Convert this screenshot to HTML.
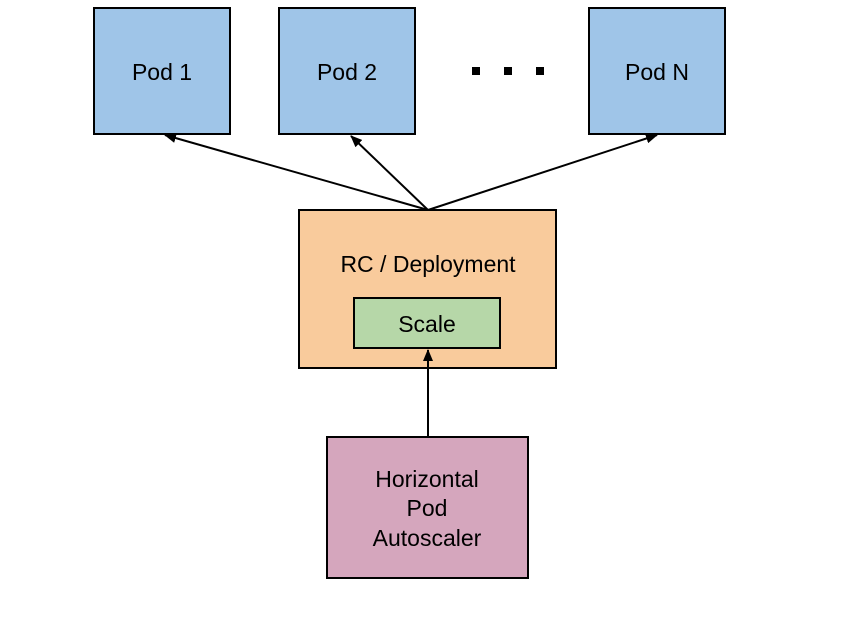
<!DOCTYPE html>
<html><head><style>html,body{margin:0;padding:0;background:#fff}</style></head><body>
<svg width="858" height="624" xmlns="http://www.w3.org/2000/svg" font-family="Liberation Sans, Arial, sans-serif" font-size="23">
<defs><marker id="a" markerWidth="12" markerHeight="10" refX="11" refY="5" orient="auto" markerUnits="userSpaceOnUse"><path d="M0,0 L12,5 L0,10 z" fill="#000"/></marker></defs>
<rect width="858" height="624" fill="#fff"/>
<g stroke="#000" stroke-width="2">
<rect x="94" y="8" width="136" height="126" fill="#9fc5e8"/>
<rect x="279" y="8" width="136" height="126" fill="#9fc5e8"/>
<rect x="589" y="8" width="136" height="126" fill="#9fc5e8"/>
<rect x="299" y="210" width="257" height="158" fill="#f9cb9c"/>
<rect x="354" y="298" width="146" height="50" fill="#b6d7a8"/>
<rect x="327" y="437" width="201" height="141" fill="#d5a6bd"/>
</g>
<g stroke="#000" stroke-width="2" marker-end="url(#a)">
<line x1="428" y1="210" x2="165" y2="135"/>
<line x1="428" y1="210" x2="351" y2="136"/>
<line x1="428" y1="210" x2="657" y2="135"/>
<line x1="428" y1="437" x2="428" y2="350"/>
</g>
<rect x="472" y="67" width="8" height="8"/><rect x="504" y="67" width="8" height="8"/><rect x="536" y="67" width="8" height="8"/>
<g text-anchor="middle">
<text x="162" y="80">Pod 1</text>
<text x="347" y="80">Pod 2</text>
<text x="657" y="80">Pod N</text>
<text x="428" y="272">RC / Deployment</text>
<text x="427" y="332">Scale</text>
<text x="427" y="487">Horizontal</text>
<text x="427" y="516">Pod</text>
<text x="427" y="546">Autoscaler</text>
</g>
</svg>
</body></html>
